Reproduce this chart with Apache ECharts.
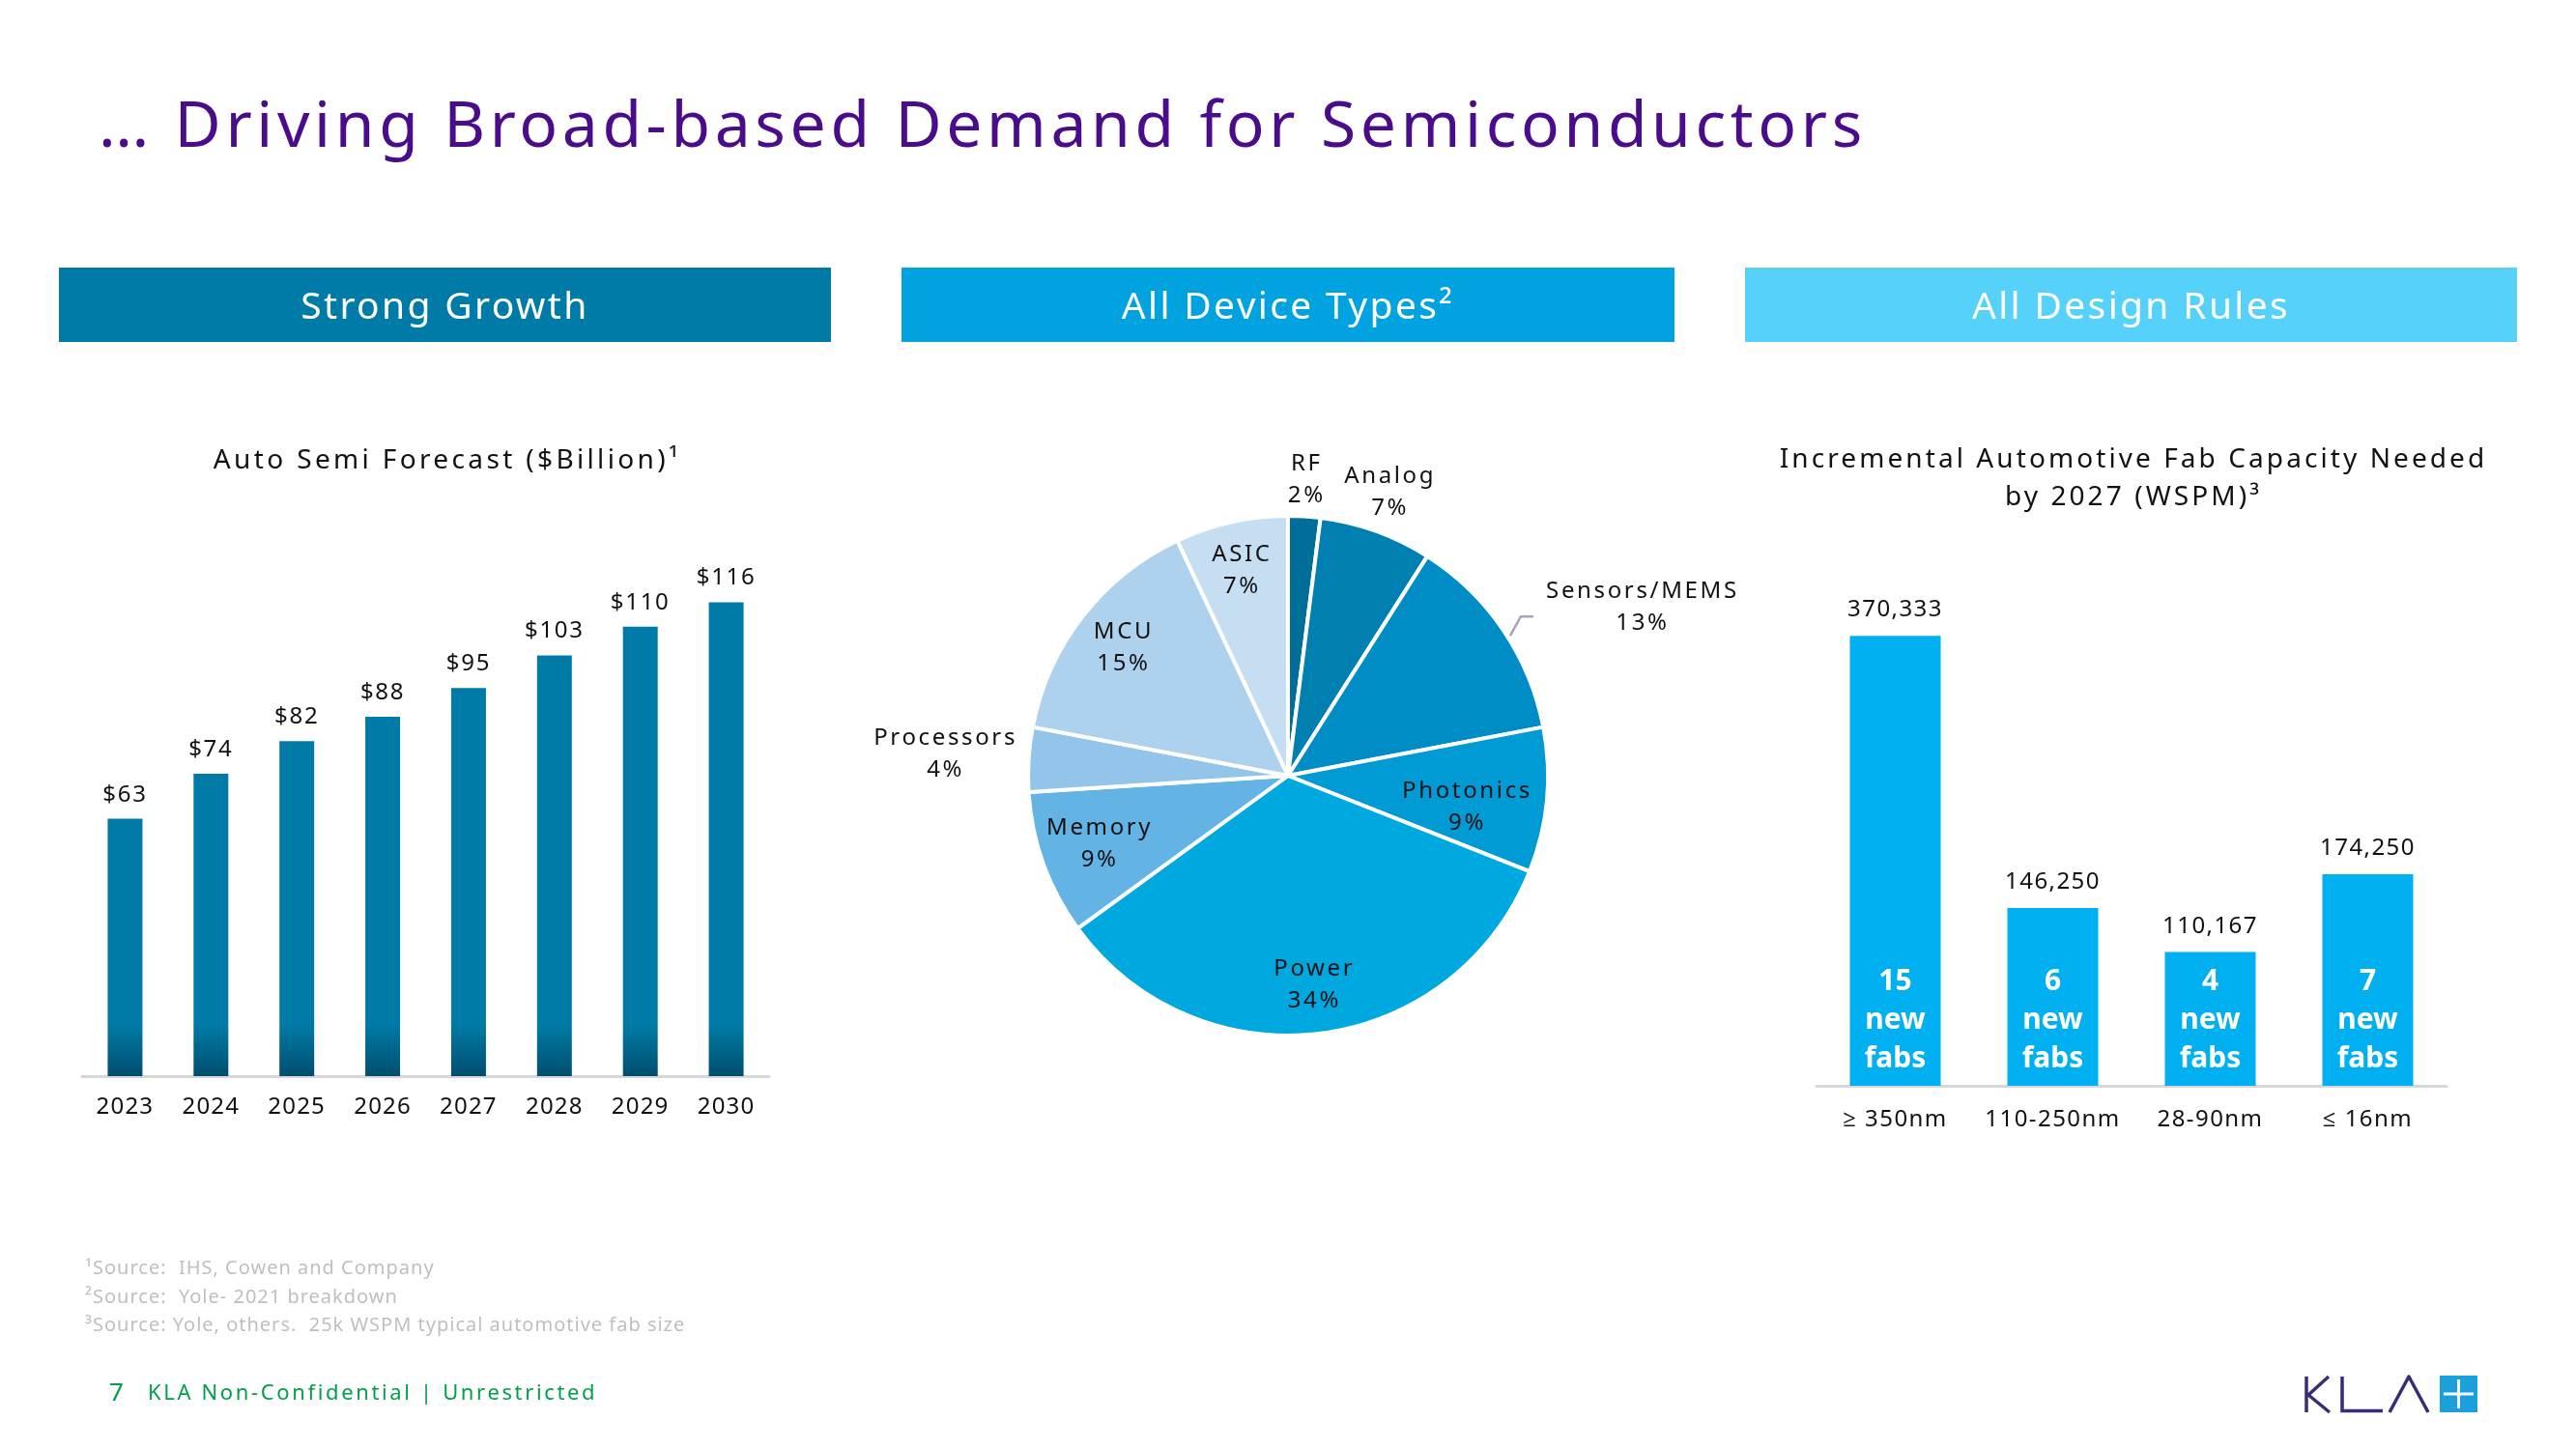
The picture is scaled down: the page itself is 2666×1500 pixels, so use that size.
<!DOCTYPE html>
<html>
<head>
<meta charset="utf-8">
<script src="https://cdn.jsdelivr.net/npm/echarts@6/dist/echarts.min.js"></script>
<style>
html,body{margin:0;padding:0;background:#fff;}
#chart{width:2666px;height:1500px;}
</style>
</head>
<body>
<div id="chart"></div>
<script>
// ---------- DATA ----------
const years = ['2023','2024','2025','2026','2027','2028','2029','2030'];
const autoSemi = [63, 74, 82, 88, 95, 103, 110, 116];

const deviceTypes = ['RF','Analog','Sensors/MEMS','Photonics','Power','Memory','Processors','MCU','ASIC'];
const deviceShare = [2, 7, 13, 9, 34, 9, 4, 15, 7];

const designRules = ['\u2265 350nm','110-250nm','28-90nm','\u2264 16nm'];
const fabCapacity = [370333, 146250, 110167, 174250];
const newFabs = [15, 6, 4, 7];

// ---------- TEXT TRACKING (letter spacing) ----------
// A font weight of 4xx means "normal weight, tracking of xx/100 em".
(function(){
  const proto = CanvasRenderingContext2D.prototype;
  const desc = Object.getOwnPropertyDescriptor(proto, 'font');
  if (!desc || !('letterSpacing' in proto)) return;
  Object.defineProperty(proto, 'font', {
    configurable:true,
    get(){ return desc.get.call(this); },
    set(v){
      desc.set.call(this, v);
      let sp = 0;
      const m = /(?:^|\s)(\d{3})\s+(?:[\d.]+)px/.exec(v);
      const s = /([\d.]+)px/.exec(v);
      if (m && s) { const w = +m[1]; if (w % 100) sp = (w % 100) / 100 * (+s[1]); }
      this.letterSpacing = sp.toFixed(2) + 'px';
    }
  });
})();

// ---------- STYLE ----------
const FONT = '"Noto Sans", "Open Sans", sans-serif';
const pieColors = ['#006E98','#0080B0','#008DC5','#009AD5','#00A8E0','#64B3E5','#93C5EA','#AED2EE','#C6DEF2'];
// label placement per slice: [radius factor, angle offset in degrees]
const pieLabelPos = {'RF':[1.14,0],'Analog':[1.16,0],'Sensors/MEMS':[1.51,8.8],'Photonics':[0.70,4.5],'Power':[0.81,0],'Memory':[0.77,0],'Processors':[1.32,0],'MCU':[0.80,0],'ASIC':[0.81,0]};
const PIE_C = [1333, 803], PIE_R = 269;

const chart = echarts.init(document.getElementById('chart'), null, {renderer:'canvas'});

const total = deviceShare.reduce((a,b)=>a+b,0);
const midAngles = [];
{ let acc = 0; deviceShare.forEach(v => { midAngles.push((acc + v/2)/total*2*Math.PI); acc += v; }); }

function headerBar(x, w, color, text) {
  return [
    {type:'rect', shape:{x:x, y:277, width:w, height:77}, style:{fill:color}, z:1},
    {type:'text', x:x + w/2, y:319, style:{text:text, fill:'#fff', font:'406 39px '+FONT, textAlign:'center', textVerticalAlign:'middle'}, z:2}
  ];
}

// short leader line for the Sensors/MEMS label, starting at the slice edge
function sensorsLeader() {
  const i = deviceTypes.indexOf('Sensors/MEMS');
  const a0 = midAngles[i] + 2*Math.PI/180;
  const p0 = [PIE_C[0] + 1.01*PIE_R*Math.sin(a0), PIE_C[1] - 1.01*PIE_R*Math.cos(a0)];
  const p1 = [p0[0]+11, p0[1]-20];
  return {type:'polyline', shape:{points:[p0, p1, [p1[0]+13, p1[1]]]}, style:{stroke:'#A6A6B8', lineWidth:2.5, fill:null}, z:5};
}

const logoPurple = '#3B2A78';
const graphic = [].concat(
  headerBar(61, 799, '#007BA7', 'Strong Growth'),
  headerBar(933, 800, '#00A3DF', 'All Device Types\u00B2'),
  headerBar(1806, 799, '#55D1FA', 'All Design Rules'),
  [
    sensorsLeader(),
    {type:'text', x:88, y:1313, style:{text:'\u00B9Source:  IHS, Cowen and Company', fill:'#BFBFBF', font:'405 20px '+FONT, textVerticalAlign:'middle'}},
    {type:'text', x:88, y:1343, style:{text:'\u00B2Source:  Yole- 2021 breakdown', fill:'#BFBFBF', font:'405 20px '+FONT, textVerticalAlign:'middle'}},
    {type:'text', x:88, y:1372, style:{text:'\u00B3Source: Yole, others.  25k WSPM typical automotive fab size', fill:'#BFBFBF', font:'405 20px '+FONT, textVerticalAlign:'middle'}},
    {type:'text', x:113, y:1443, style:{text:'7', fill:'#00A04B', font:'26px '+FONT, textVerticalAlign:'middle'}},
    {type:'text', x:153, y:1443, style:{text:'KLA Non-Confidential | Unrestricted', fill:'#00A04B', font:'412 22px '+FONT, textVerticalAlign:'middle'}},
    // KLA logo
    {type:'polyline', shape:{points:[[2387,1425],[2387,1462]]}, style:{stroke:logoPurple, lineWidth:3.5, fill:null}},
    {type:'polyline', shape:{points:[[2410,1425],[2389,1444],[2411,1462]]}, style:{stroke:logoPurple, lineWidth:3.5, fill:null, lineJoin:'round'}},
    {type:'polyline', shape:{points:[[2424,1425],[2424,1460.5],[2466,1460.5]]}, style:{stroke:logoPurple, lineWidth:3.5, fill:null}},
    {type:'polyline', shape:{points:[[2473,1462],[2493,1425],[2513,1462]]}, style:{stroke:logoPurple, lineWidth:3.5, fill:null, lineJoin:'round'}},
    {type:'rect', shape:{x:2525, y:1424, width:39, height:38}, style:{fill:'#1BA0DC'}},
    {type:'line', shape:{x1:2544.5, y1:1428, x2:2544.5, y2:1458}, style:{stroke:'#fff', lineWidth:3}},
    {type:'line', shape:{x1:2529, y1:1443, x2:2560, y2:1443}, style:{stroke:'#fff', lineWidth:3}}
  ]
);

const option = {
  backgroundColor:'#fff',
  animation:false,
  textStyle:{fontFamily:FONT},
  title:[
    {text:'\u2026 Driving Broad-based Demand for Semiconductors', left:97, top:93,
     textStyle:{fontSize:66, fontWeight:407, color:'#4A0C8A', fontFamily:FONT}},
    {text:'Auto Semi Forecast ($Billion)\u00B9', left:458, top:456, textAlign:'center',
     textStyle:{fontSize:28, fontWeight:412, color:'#111', fontFamily:FONT}},
    {text:'Incremental Automotive Fab Capacity Needed\nby 2027 (WSPM)\u00B3', left:2203, top:452, textAlign:'center',
     textStyle:{fontSize:28, fontWeight:411, color:'#111', fontFamily:FONT, lineHeight:39}}
  ],
  graphic: graphic,
  grid:[
    {left:85, width:711, top:522, height:592},
    {left:1880, width:652, top:621, height:503}
  ],
  xAxis:[
    {type:'category', gridIndex:0, data:years,
     axisLine:{lineStyle:{color:'#D6D6DC', width:3}}, axisTick:{show:false},
     axisLabel:{color:'#111', fontSize:24, fontWeight:405, margin:20, interval:0, fontFamily:FONT}},
    {type:'category', gridIndex:1, data:designRules,
     axisLine:{lineStyle:{color:'#D6D6DC', width:3}}, axisTick:{show:false},
     axisLabel:{color:'#111', fontSize:24, fontWeight:406, margin:22, interval:0, fontFamily:FONT}}
  ],
  yAxis:[
    {type:'value', gridIndex:0, min:0, max:140, show:false, splitLine:{show:false}},
    {type:'value', gridIndex:1, min:0, max:400000, show:false, splitLine:{show:false}}
  ],
  series:[
    {type:'bar', xAxisIndex:0, yAxisIndex:0, data:autoSemi, barWidth:36,
     itemStyle:{color:new echarts.graphic.LinearGradient(0,1060,0,1114,[{offset:0,color:'#007BA7'},{offset:1,color:'#004E6E'}],true)},
     label:{show:true, position:'top', distance:12, formatter:p=>'$'+p.value, color:'#111', fontSize:24, fontWeight:407, fontFamily:FONT}},
    {type:'bar', xAxisIndex:1, yAxisIndex:1, data:fabCapacity, barWidth:94,
     itemStyle:{color:'#00B0F0'},
     label:{show:true, position:'top', distance:14, formatter:p=>p.value.toLocaleString('en-US'), color:'#111', fontSize:24, fontWeight:406, fontFamily:FONT}},
    {type:'bar', xAxisIndex:1, yAxisIndex:1, data:fabCapacity, barWidth:94, barGap:'-100%', silent:true,
     itemStyle:{color:'rgba(0,0,0,0)'},
     label:{show:true, position:'insideBottom', distance:8,
       formatter:p=>newFabs[p.dataIndex]+'\nnew\nfabs',
       color:'#fff', fontSize:30, fontWeight:'bold', lineHeight:40, fontFamily:FONT}},
    {type:'pie', center:PIE_C, radius:PIE_R, startAngle:90, clockwise:true,
     data:deviceTypes.map((n,i)=>({name:n, value:deviceShare[i]})),
     itemStyle:{borderColor:'#fff', borderWidth:4},
     color:pieColors,
     label:{show:true, position:'inside', formatter:p=>p.name+'\n'+p.value+'%', color:'#111', fontSize:24, fontWeight:411, lineHeight:33, fontFamily:FONT, align:'center'},
     labelLine:{show:false},
     labelLayout:function(params){
       const i = params.dataIndex;
       const lp = pieLabelPos[deviceTypes[i]];
       const a = midAngles[i] + lp[1]*Math.PI/180;
       return {
         x: PIE_C[0] + lp[0]*PIE_R*Math.sin(a),
         y: PIE_C[1] - lp[0]*PIE_R*Math.cos(a),
         align:'center', verticalAlign:'middle'
       };
     }}
  ]
};
chart.setOption(option);
</script>
</body>
</html>
